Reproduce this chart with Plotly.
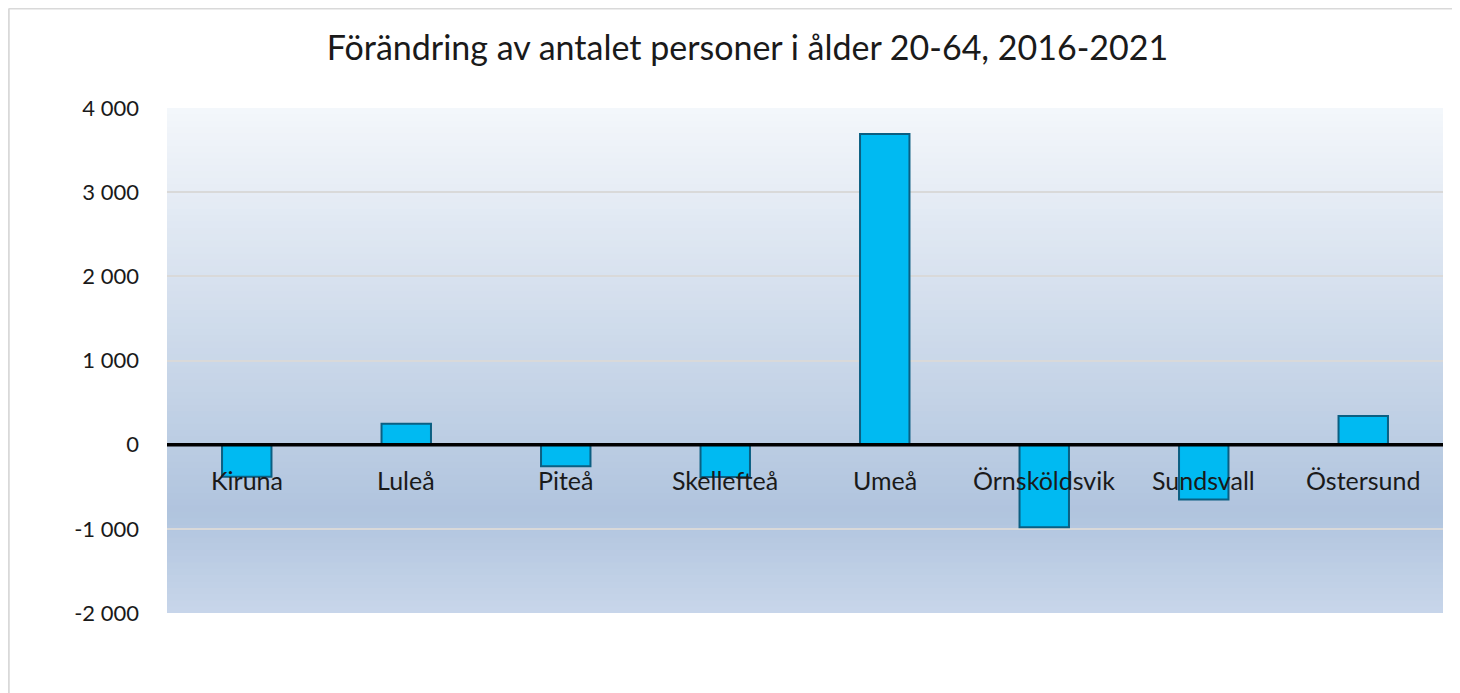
import plotly.graph_objects as go

categories = ["Kiruna", "Luleå", "Piteå", "Skellefteå", "Umeå", "Örnsköldsvik", "Sundsvall", "Östersund"]
values = [-380, 250, -255, -385, 3690, -980, -650, 340]
tick_vals = [-2000, -1000, 0, 1000, 2000, 3000, 4000]
tick_text = ["-2 000", "-1 000", "0", "1 000", "2 000", "3 000", "4 000"]
title_text = "Förändring av antalet personer i ålder 20-64, 2016-2021"

FONT = "Lato"

fig = go.Figure()
fig.add_trace(go.Bar(
    x=categories, y=values,
    marker=dict(color="#00BAF2", line=dict(color="#0b5f82", width=2)),
    width=0.31,
    hoverinfo="x+y",
))

# gradient background for plot area
stops = [(0.0, (200, 214, 234)), (0.2, (176, 196, 222)), (1.0, (244, 247, 251))]
def col(t):
    for (t0, c0), (t1, c1) in zip(stops[:-1], stops[1:]):
        if t0 <= t <= t1:
            f = (t - t0) / (t1 - t0)
            return "rgb(%d,%d,%d)" % tuple(round(a + (b - a) * f) for a, b in zip(c0, c1))
    return "rgb(%d,%d,%d)" % stops[-1][1]

N = 80
shapes = []
for i in range(N):
    y0 = i / N
    y1 = (i + 1) / N + 0.002
    shapes.append(dict(type="rect", xref="paper", yref="paper", x0=0, x1=1, y0=y0, y1=min(y1, 1),
                       fillcolor=col((i + 0.5) / N), line=dict(width=0), layer="below"))
# zero line above bars
shapes.append(dict(type="line", xref="paper", yref="y", x0=0, x1=1, y0=0, y1=0,
                   line=dict(color="black", width=3.5), layer="above"))
# outer chart border (top and left edges only visible)
shapes.append(dict(type="line", xref="paper", yref="paper", x0=-0.1240, x1=1.3, y0=1.197, y1=1.197,
                   line=dict(color="#d9d9d9", width=2), layer="below"))
shapes.append(dict(type="line", xref="paper", yref="paper", x0=-0.1240, x1=-0.1240, y0=-0.3, y1=1.197,
                   line=dict(color="#d9d9d9", width=2), layer="below"))

annotations = [dict(x=c, y=0, xref="x", yref="y", text=c, showarrow=False, yshift=-35,
                    font=dict(family=FONT, size=25, color="#1a1a1a")) for c in categories]

fig.update_layout(
    width=1460, height=693,
    margin=dict(l=159, r=25, t=100, b=88),
    paper_bgcolor="white",
    plot_bgcolor="rgba(0,0,0,0)",
    title=dict(text=title_text, x=0.5065, xanchor="center", y=1 - 40 / 693, yanchor="middle",
               font=dict(family=FONT, size=34, color="#1a1a1a")),
    xaxis=dict(showticklabels=False, showgrid=False, zeroline=False, showline=False),
    yaxis=dict(range=[-2000, 4000], tickvals=tick_vals, ticktext=tick_text,
               showgrid=True, gridcolor="#d9d9d9", gridwidth=2, zeroline=False,
               showline=False, ticklabelstandoff=27,
               tickfont=dict(family=FONT, size=22, color="#1a1a1a")),
    shapes=shapes, annotations=annotations,
    showlegend=False, bargap=0.7,
)

fig.write_html("out.html")
